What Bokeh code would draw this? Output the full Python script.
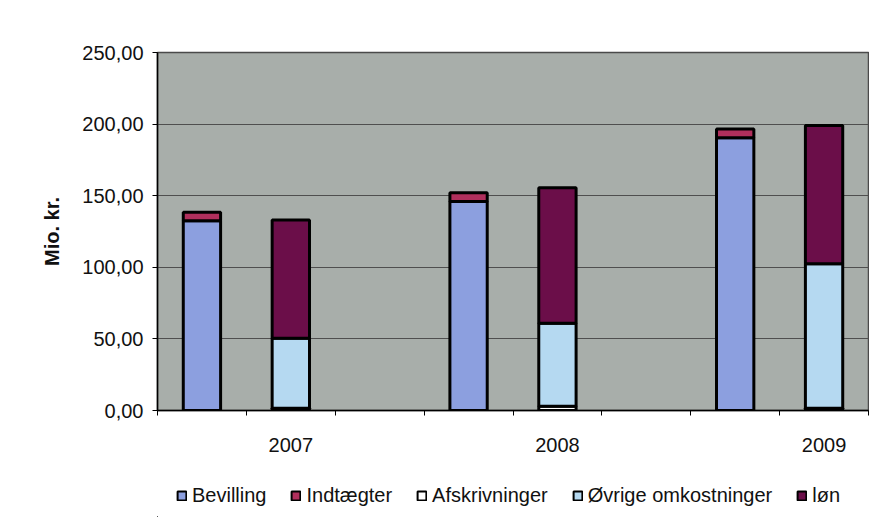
from bokeh.plotting import figure
from bokeh.layouts import column
from bokeh.models import ColumnDataSource, FixedTicker, Legend, LegendItem
from bokeh.embed import file_html
from bokeh.resources import INLINE

years = ["2007", "2008", "2009"]
bevilling = [132.5, 146.0, 190.5]
indtaegter = [6.0, 6.0, 6.0]
afskrivninger = [1.5, 3.0, 1.5]
ovrige = [49.0, 58.0, 101.0]
lon = [82.5, 94.5, 96.5]
series_names = ["Bevilling", "Indtægter", "Afskrivninger", "Øvrige omkostninger", "løn"]
series_colors = ["#8c9fdf", "#b02f5c", "white", "#b5d9f1", "#6b0e49"]
y_ticks = [0, 50, 100, 150, 200, 250]
y_tick_labels = ["0,00", "50,00", "100,00", "150,00", "200,00", "250,00"]

FONT = "Liberation Sans"

# category slots: each year uses 3 slots (income bar, cost bar, gap)
x_left = [3 * i + 0.5 for i in range(len(years))]
x_right = [3 * i + 1.5 for i in range(len(years))]

src_l = ColumnDataSource(dict(
    x=x_left,
    bev_b=[0.0] * len(years),
    bev_t=bevilling,
    ind_b=bevilling,
    ind_t=[b + i for b, i in zip(bevilling, indtaegter)],
))
afs_t = afskrivninger
ovr_t = [a + o for a, o in zip(afskrivninger, ovrige)]
lon_t = [a + o + l for a, o, l in zip(afskrivninger, ovrige, lon)]
src_r = ColumnDataSource(dict(
    x=x_right,
    afs_b=[0.0] * len(years),
    afs_t=afs_t,
    ovr_b=afs_t,
    ovr_t=ovr_t,
    lon_b=ovr_t,
    lon_t=lon_t,
))

p = figure(width=869, height=465, output_backend="svg", toolbar_location=None,
           x_range=(0, 8), y_range=(0, 250),
           min_border_left=157, min_border_right=1, min_border_top=52, min_border_bottom=55)

p.background_fill_color = "#a8aeaa"
p.border_fill_color = "white"
p.outline_line_color = "#4a4a4a"
p.outline_line_width = 1.5

W = 0.42
LW = 3
p.vbar(x="x", bottom="bev_b", top="bev_t", width=W, source=src_l,
       fill_color=series_colors[0], line_color="black", line_width=LW)
p.vbar(x="x", bottom="ind_b", top="ind_t", width=W, source=src_l,
       fill_color=series_colors[1], line_color="black", line_width=LW)
p.vbar(x="x", bottom="afs_b", top="afs_t", width=W, source=src_r,
       fill_color=series_colors[2], line_color="black", line_width=LW)
p.vbar(x="x", bottom="ovr_b", top="ovr_t", width=W, source=src_r,
       fill_color=series_colors[3], line_color="black", line_width=LW)
p.vbar(x="x", bottom="lon_b", top="lon_t", width=W, source=src_r,
       fill_color=series_colors[4], line_color="black", line_width=LW)

# grid
p.xgrid.grid_line_color = None
p.ygrid.grid_line_color = "#4f4f4f"
p.ygrid.grid_line_width = 1
p.ygrid.ticker = FixedTicker(ticks=y_ticks)

# y axis
p.yaxis.ticker = FixedTicker(ticks=y_ticks)
p.yaxis.major_label_overrides = {t: l for t, l in zip(y_ticks, y_tick_labels)}
p.yaxis.minor_tick_line_color = None
p.yaxis.major_tick_out = 5
p.yaxis.major_tick_in = 0
p.yaxis.major_tick_line_color = "black"
p.yaxis.axis_line_color = "black"
p.yaxis.axis_line_width = 1.5
p.yaxis.major_label_standoff = 9
p.yaxis.major_label_text_font = FONT
p.yaxis.major_label_text_font_size = "20px"
p.yaxis.major_label_text_color = "#111111"
p.yaxis.axis_label = "Mio. kr."
p.yaxis.axis_label_text_font = FONT
p.yaxis.axis_label_text_font_size = "20px"
p.yaxis.axis_label_text_font_style = "bold"
p.yaxis.axis_label_text_color = "#111111"
p.yaxis.axis_label_standoff = 16

# x axis
p.xaxis.ticker = FixedTicker(ticks=[1.5, 4.5, 7.5], minor_ticks=list(range(9)))
p.xaxis.major_label_overrides = {x: y for x, y in zip(x_right, years)}
p.xaxis.major_tick_line_color = None
p.xaxis.major_tick_out = 0
p.xaxis.major_tick_in = 0
p.xaxis.minor_tick_line_color = "black"
p.xaxis.minor_tick_out = 5
p.xaxis.minor_tick_in = 0
p.xaxis.axis_line_color = "black"
p.xaxis.axis_line_width = 1.5
p.xaxis.major_label_standoff = 22
p.xaxis.major_label_text_font = FONT
p.xaxis.major_label_text_font_size = "20px"
p.xaxis.major_label_text_color = "#111111"

# legend strip below the chart (proxy glyphs sit outside the visible range)
q = figure(width=869, height=52, output_backend="svg", toolbar_location=None,
           x_range=(0, 1), y_range=(0, 1), min_border=0)
q.axis.visible = False
q.grid.grid_line_color = None
q.outline_line_color = None
q.background_fill_color = "white"
q.border_fill_color = "white"
items = []
for name, color in zip(series_names, series_colors):
    r = q.vbar(x=[-5.0], top=[-5.0], bottom=[-6.0], width=0.1,
               fill_color=color, line_color="black", line_width=2)
    items.append(LegendItem(label=name, renderers=[r]))
legend = Legend(items=items, orientation="horizontal", location=(19, 10))
legend.background_fill_alpha = 0
legend.border_line_color = None
legend.padding = 0
legend.margin = 0
legend.spacing = 24
legend.label_standoff = 5
legend.glyph_width = 11
legend.glyph_height = 11
legend.label_text_font = FONT
legend.label_text_font_size = "20px"
legend.label_text_color = "#111111"
q.add_layout(legend, "center")

layout = column(p, q, spacing=0)
open("out.html", "w").write(file_html(layout, INLINE))
